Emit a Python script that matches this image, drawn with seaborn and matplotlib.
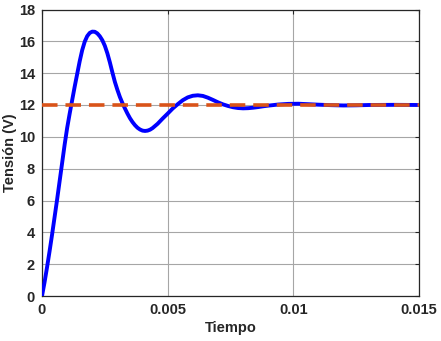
import matplotlib
matplotlib.use("Agg")
import pandas as pd
import seaborn as sns
from matplotlib import pyplot as plt

# values (time in ms, voltage in V)
t_ms = [0.0, 0.1, 0.2, 0.3, 0.4, 0.5, 0.6, 0.7, 0.8, 0.9,
        1.0, 1.1, 1.2, 1.3, 1.4, 1.5, 1.6, 1.7, 1.8, 1.9,
        2.0, 2.1, 2.2, 2.3, 2.4, 2.5, 2.6, 2.7, 2.8, 2.9,
        3.0, 3.1, 3.2, 3.3, 3.4, 3.5, 3.6, 3.7, 3.8, 3.9,
        4.0, 4.1, 4.2, 4.3, 4.4, 4.6, 4.8, 5.0, 5.2, 5.4,
        5.6, 5.8, 6.0, 6.2, 6.4, 6.6, 6.8, 7.0, 7.2, 7.4,
        7.6, 7.8, 8.0, 8.2, 8.4, 8.6, 8.8, 9.0, 9.4, 9.8,
        10.2, 10.6, 11.0, 11.5, 12.0, 12.5, 13.0, 14.0, 15.0]
tension = [0.0, 0.85, 1.8, 2.8, 3.85, 4.95, 6.05, 7.2, 8.35, 9.5,
           10.55, 11.45, 12.3, 13.15, 13.95, 14.75, 15.45, 15.98, 16.33, 16.53,
           16.61, 16.6, 16.5, 16.32, 16.07, 15.72, 15.25, 14.68, 14.05, 13.45,
           12.95, 12.5, 12.12, 11.78, 11.46, 11.17, 10.93, 10.73, 10.57, 10.46,
           10.39, 10.37, 10.39, 10.45, 10.55, 10.82, 11.15, 11.46, 11.78, 12.05,
           12.3, 12.48, 12.58, 12.61, 12.57, 12.46, 12.32, 12.17, 12.04, 11.94,
           11.86, 11.81, 11.79, 11.8, 11.83, 11.87, 11.92, 11.96, 12.03, 12.07,
           12.08, 12.05, 12.02, 11.99, 11.97, 11.98, 12.0, 12.01, 12.0]
referencia = 12.0

xticks = [0, 0.005, 0.01, 0.015]
xtick_labels = ["0", "0.005", "0.01", "0.015"]
yticks = list(range(0, 19, 2))

df = pd.DataFrame({"t": [v / 1000 for v in t_ms], "v": tension})
ref = pd.DataFrame({"t": [0.0, 0.015], "v": [referencia, referencia]})

sns.set_style("white")
plt.rcParams["font.family"] = ["Liberation Sans", "DejaVu Sans"]
plt.rcParams["font.weight"] = "bold"

fig = plt.figure(figsize=(4.41, 3.41), dpi=100)
ax = fig.add_axes([42 / 441, 45 / 341, 377 / 441, 286.5 / 341])

sns.lineplot(ax=ax, data=df, x="t", y="v", color="#0000ff", linewidth=2.8, zorder=3)
sns.lineplot(ax=ax, data=ref, x="t", y="v", color="#D95319", linewidth=2.6,
             linestyle=(0, (4.3, 2.2)), zorder=4)

ax.set_xlim(0, 0.015)
ax.set_ylim(0, 18)
ax.set_xticks(xticks)
ax.set_xticklabels(xtick_labels)
ax.set_yticks(yticks)
ax.grid(True, color="#a6a6a6", linewidth=0.8)
ax.set_axisbelow(True)

ax.tick_params(direction="in", top=True, right=True, length=3, width=0.8,
               labelsize=10.5, colors="#262626", pad=5)
for lab in ax.get_xticklabels() + ax.get_yticklabels():
    lab.set_fontweight("bold")
for sp in ax.spines.values():
    sp.set_color("#262626")
    sp.set_linewidth(0.9)

ax.set_xlabel("Tiempo", fontsize=10.5, fontweight="bold", color="#262626", labelpad=3)
ax.set_ylabel("Tensión (V)", fontsize=10.5, fontweight="bold", color="#262626", labelpad=1)

fig.savefig("out.png", dpi=100)
